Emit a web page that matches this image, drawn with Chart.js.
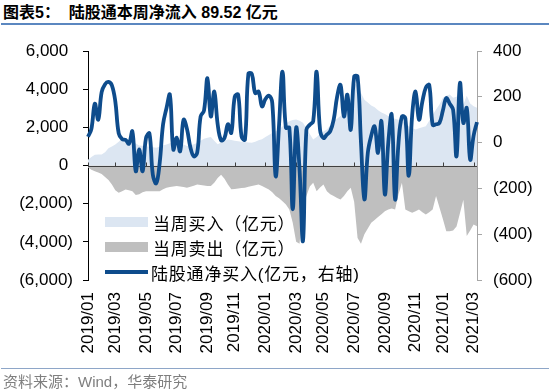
<!DOCTYPE html>
<html>
<head>
<meta charset="utf-8">
<script src="https://cdn.jsdelivr.net/npm/chart.js@4.4.0/dist/chart.umd.min.js"></script>
<style>
body { margin: 0; background: #fff; }
#wrap { position: relative; width: 550px; height: 392px; overflow: hidden; font-family: "Liberation Sans", "Noto Sans CJK SC", sans-serif; }
#title { position: absolute; left: 3px; top: 3px; font-size: 16px; font-weight: bold; white-space: pre; color: #000; line-height: 19px; }
#rule1 { position: absolute; left: 1px; width: 548px; top: 23px; border-top: 2px solid #5B87C0; }
#chartBox { position: absolute; left: 0; top: 28px; width: 550px; height: 342px; }
#rule2 { position: absolute; left: 1px; width: 548px; top: 368px; border-top: 1px solid #8EA6C8; }
#source { position: absolute; left: 3px; top: 373px; font-size: 15px; color: #7f7f7f; line-height: 17px; }
.lg { position: absolute; left: 105px; height: 20px; display: flex; align-items: center; font-size: 17px; letter-spacing: 0.8px; color: #000; white-space: nowrap; }
.sw { display: inline-block; width: 43px; height: 10px; margin-right: 5px; }
.ln { display: inline-block; width: 43px; height: 4px; margin-right: 3px; background: #0E4C8C; }
</style>
</head>
<body>
<div id="wrap">
  <div id="title">图表5：  陆股通本周净流入 89.52 亿元</div>
  <div id="rule1"></div>
  <div id="chartBox"><canvas id="c"></canvas></div>
  <div class="lg" style="top:212px"><span class="sw" style="background:#DCE6F2"></span>当周买入（亿元）</div>
  <div class="lg" style="top:237px"><span class="sw" style="background:#BFBFBF"></span>当周卖出（亿元）</div>
  <div class="lg" style="top:262px"><span class="ln"></span>陆股通净买入(亿元，右轴)</div>
  <div id="rule2"></div>
  <div id="source">资料来源：Wind，华泰研究</div>
</div>
<script>
// weekly data, first week ending 2019-01-04
const firstWeek = new Date(2019, 0, 4);

// 当周买入 (亿元, left axis)
const buyIn = [
  300, 450, 560, 580, 580, 700, 900, 1000, 1100, 1250,
  1420, 1400, 1360, 1250, 1150, 1050, 1030, 1010, 980, 950,
  930, 980, 1050, 1100, 1170, 1190, 1190, 1190, 1100, 1020,
  1050, 1120, 1180, 1300, 1400, 1450, 1500, 1300, 1120, 1200,
  1300, 1360, 1330, 1300, 1270, 1250, 1230, 1210, 1190, 1250,
  1320, 1380, 1500, 1600, 1700, 1800, 1880, 2050, 2200, 2320,
  2380, 2410, 2350, 2240, 1950, 1650, 1360, 1500, 1650, 1780,
  1890, 2100, 2300, 2450, 2600, 2700, 2900, 3500, 4300, 4200,
  3800, 3450, 3300, 3150, 3050, 2900, 2780, 2700, 2600, 2500,
  2450, 2400, 2330, 2200, 2060, 1970, 1890, 1950, 2000, 2060,
  2350, 2650, 2930, 3200, 3550, 3650, 3720, 3550, 3600, 3810,
  3200, 3650, 3250, 3100, 3020
];

// 当周卖出 (亿元, left axis)
const sellOut = [
  -100, -220, -300, -370, -450, -600, -760, -1000, -1300, -1430,
  -1350, -1260, -1300, -1350, -1550, -1500, -1400, -1350, -1350, -1350,
  -1350, -1350, -1250, -1170, -1130, -1100, -1080, -1100, -1130, -1160,
  -1120, -1060, -1000, -1020, -1050, -1070, -1080, -900, -650, -480,
  -700, -1000, -1250, -1230, -1200, -1180, -1170, -1120, -1070, -1030,
  -1000, -1080, -1170, -1260, -1400, -1600, -1720, -1870, -2050, -2300,
  -3000, -4000, -4100, -2100, -1600, -1100, -910, -1350, -1150, -1000,
  -1350, -1500, -1600, -1700, -1780, -1600, -1350, -1170, -1900, -3800,
  -4100, -3600, -3300, -3000, -2850, -2700, -2550, -2400, -2300, -2250,
  -2300, -1500, -900, -2300, -2400, -2480, -2400, -2300, -2450, -2570,
  -2450, -2300, -1600, -2200, -2800, -3440, -3440, -3400, -3200, -2500,
  -1800, -3700, -3400, -3090, -3180
];

// 陆股通净买入 (亿元, right axis)
const netBuy = [
  26, 60, 170, 100, 220, 255, 265, 250, 180, 40,
  15, 12, -5, 49, -125, -30, -125, 20, 40, -140,
  -178, -90, 80, 150, 209, -30, 22, -38, 100, 60,
  -20, -60, -44, 114, 140, 281, 114, 223, 80, 10,
  20, 80, 43, 200, 210, 27, 13, 300, 300, 216,
  223, 158, 190, 205, 173, -147, 80, 310, 65, 65,
  -291, 65, -120, -429, 56, 78, 93, 310, 56, 20,
  35, 50, 100, 200, 252, 114, 209, 56, 288, 288,
  0, -248, -45, 30, 71, -45, 93, -226, 0, 122,
  -248, 0, 114, 107, -145, 120, 223, 100, 180, 240,
  252, 78, 80, 86, 140, 194, 170, 143, -60, 260,
  86, 151, -74, 30, 89.52
];

const leftTicks = { min: -6000, max: 6000, step: 2000 };
const rightTicks = { min: -600, max: 400, step: 200 };

const weeks = buyIn.map((v, i) => new Date(firstWeek.getTime() + i * 7 * 86400000));
const labels = weeks.map(d => d.getFullYear() + '/' + String(d.getMonth() + 1).padStart(2, '0'));
// first week of every odd month gets a tick + label
const tickIdx = weeks.map((d, i) => i).filter(i =>
  (weeks[i].getMonth() % 2 === 0) && (i === 0 || weeks[i - 1].getMonth() !== weeks[i].getMonth()));

function fmt(v, withComma) {
  const s = withComma ? Math.abs(v).toLocaleString('en-US') : String(Math.abs(v));
  return v < 0 ? '(' + s + ')' : s + ' ';
}

const zeroLine = {
  id: 'zeroLine',
  afterDatasetDraw(chart, args) {
    if (args.index !== 1) return;
    const ctx = chart.ctx, a = chart.chartArea;
    const y = Math.round(chart.scales.y.getPixelForValue(0)) + 0.5;
    ctx.save();
    ctx.strokeStyle = '#404040';
    ctx.lineWidth = 1;
    ctx.beginPath();
    ctx.moveTo(a.left, y);
    ctx.lineTo(a.right, y);
    tickIdx.forEach(i => {
      const x = Math.round(chart.scales.x.getPixelForValue(i)) + 0.5;
      ctx.moveTo(x, y);
      ctx.lineTo(x, y - 4);
    });
    ctx.stroke();
    ctx.restore();
  }
};

new Chart(document.getElementById('c'), {
  type: 'line',
  data: {
    labels: labels,
    datasets: [
      {
        label: '陆股通净买入(亿元，右轴)',
        data: netBuy,
        yAxisID: 'y1',
        borderColor: '#0E4C8C',
        borderWidth: 3.8,
        tension: 0.4,
        pointRadius: 0,
        fill: false
      },
      {
        label: '当周买入（亿元）',
        data: buyIn,
        yAxisID: 'y',
        borderWidth: 0,
        backgroundColor: '#DCE6F2',
        pointRadius: 0,
        fill: 'origin'
      },
      {
        label: '当周卖出（亿元）',
        data: sellOut,
        yAxisID: 'y',
        borderWidth: 0,
        backgroundColor: '#BFBFBF',
        pointRadius: 0,
        fill: 'origin'
      }
    ]
  },
  options: {
    responsive: true,
    maintainAspectRatio: false,
    animation: false,
    layout: { padding: { top: 23, left: 0, right: 0, bottom: 0 } },
    plugins: { legend: { display: false }, tooltip: { enabled: false } },
    scales: {
      x: {
        type: 'category',
        grid: { display: false, drawTicks: false },
        border: { display: false },
        afterFit(s) { s.height = 90; },
        ticks: {
          autoSkip: false,
          minRotation: 90,
          maxRotation: 90,
          padding: 12,
          color: '#000',
          font: { family: 'Liberation Sans', size: 17 },
          callback: (v, i) => tickIdx.includes(i) ? labels[i] : ''
        }
      },
      y: {
        position: 'left',
        min: leftTicks.min,
        max: leftTicks.max,
        afterFit(s) { s.width = 88; },
        grid: { drawOnChartArea: false, drawTicks: true, tickLength: 5, color: '#000' },
        border: { display: true, color: '#000' },
        ticks: {
          stepSize: leftTicks.step,
          padding: 10,
          color: '#000',
          font: { family: 'Liberation Sans', size: 17 },
          callback: v => fmt(v, true)
        }
      },
      y1: {
        position: 'right',
        min: rightTicks.min,
        max: rightTicks.max,
        afterFit(s) { s.width = 73; },
        grid: { drawOnChartArea: false, drawTicks: true, tickLength: 5, color: '#A6A6A6' },
        border: { display: true, color: '#A6A6A6' },
        ticks: {
          stepSize: rightTicks.step,
          padding: 11,
          color: '#000',
          font: { family: 'Liberation Sans', size: 17 },
          callback: v => fmt(v, false).trim()
        }
      }
    }
  },
  plugins: [zeroLine]
});
</script>
</body>
</html>
